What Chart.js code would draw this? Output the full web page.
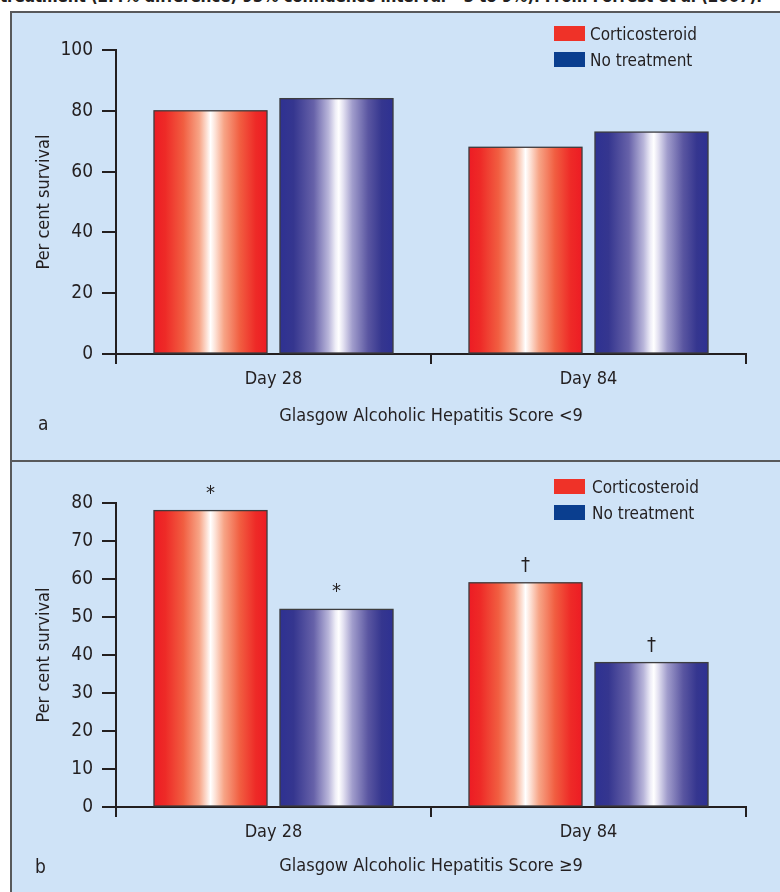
<!DOCTYPE html>
<html>
<head>
<meta charset="utf-8">
<title>Per cent survival by Glasgow Alcoholic Hepatitis Score</title>
<script src="https://cdn.jsdelivr.net/npm/chart.js@4.4.1/dist/chart.umd.min.js"></script>
<style>
  html, body { margin: 0; padding: 0; width: 780px; height: 892px; overflow: hidden; background: #ffffff; }
  body { position: relative; font-family: "Liberation Sans Narrow", "Arial Narrow", "DejaVu Sans Condensed", sans-serif; }
  .caption { position: absolute; left: 0; top: -14px; white-space: nowrap; font-weight: bold; font-size: 17px; line-height: 20px; letter-spacing: -0.2px; color: #231f20; }
  .panel { position: absolute; left: 10px; width: 790px; background: #cfe3f7; border-left: 2px solid #58595b; border-top: 2px solid #58595b; }
  #panelA { top: 11px; height: 448px; }
  #panelB { top: 460px; height: 440px; }
  canvas { position: absolute; left: 0; }
  #chartA { top: 0; }
  #chartB { top: 462px; }
</style>
</head>
<body>
<div class="caption">treatment (2.4% difference) 95% confidence interval −5 to 9%). From Forrest et al (2007).</div>
<div class="panel" id="panelA"></div>
<div class="panel" id="panelB"></div>
<canvas id="chartA" width="780" height="461"></canvas>
<canvas id="chartB" width="780" height="430"></canvas>
<script>
// Categories and series
const categories = ['Day 28', 'Day 84'];
const seriesNames = ['Corticosteroid', 'No treatment'];

// Panel a: Glasgow Alcoholic Hepatitis Score < 9
const lowScoreCortico = [80, 68];
const lowScoreNoTreatment = [84, 73];
const lowScoreTicks = [0, 20, 40, 60, 80, 100];

// Panel b: Glasgow Alcoholic Hepatitis Score >= 9
const highScoreCortico = [78, 59];
const highScoreNoTreatment = [52, 38];
const highScoreTicks = [0, 10, 20, 30, 40, 50, 60, 70, 80];
const highScoreCorticoMarks = ['*', '†'];
const highScoreNoTreatmentMarks = ['*', '†'];

const FONT = '"Liberation Sans Narrow", "Arial Narrow", "DejaVu Sans Condensed", sans-serif';
const INK = '#231f20';
const AXIS_SIZE = 18;

const redStops = [[0, '#ed1c24'], [0.1, '#ee2a27'], [0.26, '#f15e41'], [0.4, '#f7a486'], [0.47, '#fde3d8'], [0.5, '#ffffff'], [0.54, '#fde3d8'], [0.62, '#f7a486'], [0.76, '#f15e41'], [0.9, '#ee2a27'], [1, '#ed1c24']];
const blueStops = [[0, '#2e3192'], [0.12, '#35368f'], [0.3, '#6762a9'], [0.43, '#b9b6da'], [0.49, '#eeedf7'], [0.52, '#ffffff'], [0.56, '#e3e1f1'], [0.64, '#a19dcc'], [0.78, '#5a56a1'], [0.9, '#35368f'], [1, '#2e3192']];

Chart.defaults.font.family = FONT;
Chart.defaults.color = INK;

// Draws the shaded bars, value marks, the legend and the panel letter
const panelDecor = {
  id: 'panelDecor',
  afterDatasetsDraw(chart, args, opts) {
    const ctx = chart.ctx;
    chart.data.datasets.forEach((ds, di) => {
      const meta = chart.getDatasetMeta(di);
      meta.data.forEach((el, i) => {
        const { x, y, base, width } = el.getProps(['x', 'y', 'base', 'width'], true);
        const left = x - width / 2;
        const g = ctx.createLinearGradient(left, 0, left + width, 0);
        ds.shade.forEach(([o, c]) => g.addColorStop(o, c));
        ctx.save();
        ctx.fillStyle = g;
        ctx.fillRect(left, y, width, base - y);
        ctx.lineWidth = 1.3;
        ctx.strokeStyle = '#3d3d3f';
        ctx.strokeRect(left, y, width, base - y);
        if (ds.marks && ds.marks[i]) {
          ctx.fillStyle = INK;
          ctx.font = '20px ' + FONT;
          ctx.textAlign = 'center';
          ctx.textBaseline = 'alphabetic';
          ctx.fillText(ds.marks[i], x, y - opts.markGap);
        }
        ctx.restore();
      });
    });
  },
  afterDraw(chart, args, opts) {
    const ctx = chart.ctx;
    ctx.save();
    ctx.font = '17px ' + FONT;
    ctx.textAlign = 'left';
    ctx.textBaseline = 'alphabetic';
    chart.data.datasets.forEach((ds, di) => {
      const top = opts.legendY + di * opts.legendRow;
      ctx.fillStyle = ds.legendColor;
      ctx.fillRect(opts.legendX, top, 31, 15);
      ctx.fillStyle = INK;
      ctx.fillText(ds.label, opts.legendTextX, top + 14);
    });
    ctx.font = '19px ' + FONT;
    ctx.fillText(opts.letter, opts.letterX, opts.letterY);
    ctx.restore();
  }
};

function makePanel(canvasId, cfg) {
  const ticks = cfg.ticks;
  return new Chart(document.getElementById(canvasId), {
    type: 'bar',
    data: {
      labels: categories,
      datasets: [
        { label: seriesNames[0], data: cfg.cortico, backgroundColor: '#ef3228', legendColor: '#ef3228', shade: redStops, marks: cfg.corticoMarks, borderWidth: 0 },
        { label: seriesNames[1], data: cfg.none, backgroundColor: '#2e3192', legendColor: '#0a3e8f', shade: blueStops, marks: cfg.noneMarks, borderWidth: 0 }
      ]
    },
    options: {
      responsive: false,
      animation: false,
      devicePixelRatio: 1,
      barPercentage: 0.897,
      categoryPercentage: 0.8,
      layout: { padding: { top: cfg.padTop, bottom: cfg.padBottom, left: 0, right: 34 } },
      plugins: {
        legend: { display: false },
        tooltip: { enabled: false },
        panelDecor: cfg.decor
      },
      scales: {
        x: {
          type: 'category',
          offset: true,
          grid: { display: true, offset: true, drawOnChartArea: false, drawTicks: true, tickLength: 10, color: INK, lineWidth: 2 },
          border: { display: true, color: INK, width: 2 },
          ticks: { font: { size: AXIS_SIZE }, color: INK, padding: 5 },
          title: { display: true, text: cfg.xTitle, font: { size: AXIS_SIZE }, color: INK, padding: { top: 0, bottom: cfg.xTitlePad } },
          afterFit: s => { s.height = cfg.xHeight; }
        },
        y: {
          min: ticks[0],
          max: ticks[ticks.length - 1],
          afterBuildTicks: s => { s.ticks = ticks.map(v => ({ value: v })); },
          grid: { display: true, drawOnChartArea: false, drawTicks: true, tickLength: 14, color: INK, lineWidth: 2 },
          border: { display: true, color: INK, width: 2 },
          ticks: { font: { size: 19 }, color: INK, padding: 9 },
          title: { display: true, text: 'Per cent survival', font: { size: AXIS_SIZE }, color: INK, padding: { top: 34, bottom: 0 } },
          afterFit: s => { s.width = 116; }
        }
      }
    },
    plugins: [panelDecor]
  });
}

makePanel('chartA', {
  cortico: lowScoreCortico,
  none: lowScoreNoTreatment,
  ticks: lowScoreTicks,
  xTitle: 'Glasgow Alcoholic Hepatitis Score <9',
  padTop: 50, padBottom: 27, xHeight: 80, xTitlePad: 7,
  decor: { legendX: 554, legendY: 26, legendRow: 26, legendTextX: 590, letter: 'a', letterX: 38, letterY: 430, markGap: 12 }
});

makePanel('chartB', {
  cortico: highScoreCortico,
  none: highScoreNoTreatment,
  corticoMarks: highScoreCorticoMarks,
  noneMarks: highScoreNoTreatmentMarks,
  ticks: highScoreTicks,
  xTitle: 'Glasgow Alcoholic Hepatitis Score \u22659',
  padTop: 41, padBottom: 10, xHeight: 75, xTitlePad: 5,
  decor: { legendX: 554, legendY: 17, legendRow: 26, legendTextX: 592, letter: 'b', letterX: 35, letterY: 411, markGap: 12 }
});
</script>
</body>
</html>
